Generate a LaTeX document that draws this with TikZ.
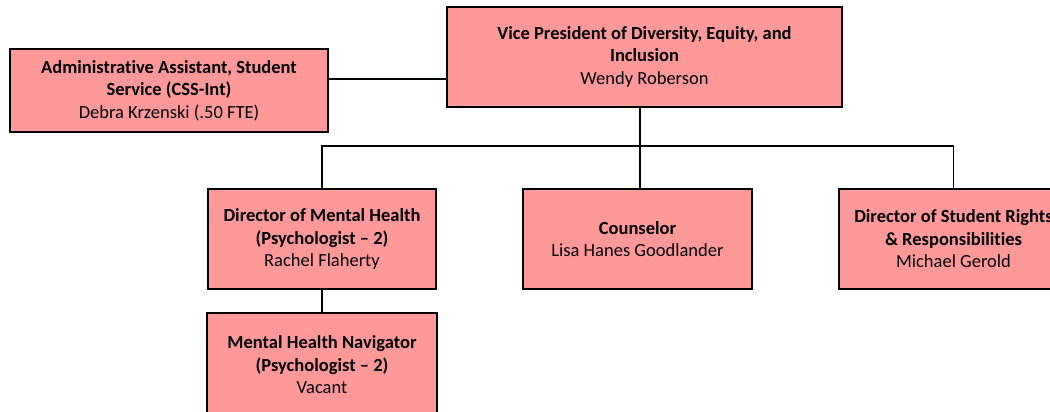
\documentclass[tikz,border=0pt]{standalone}
\usepackage{fontspec}
\setmainfont{Carlito}[Ligatures=NoCommon]
\definecolor{boxfill}{HTML}{FF9999}
\begin{document}
\begin{tikzpicture}[x=1pt,y=-1pt,
  orgbox/.style={draw=black, line width=1.8pt, fill=boxfill, rectangle, align=center,
    inner sep=0pt, font=\fontsize{18.5}{22.5}\selectfont},
  link/.style={draw=black, line width=1.6pt}]
\useasboundingbox (0,0) rectangle (1050,412);
\begin{scope}
\clip (0,0) rectangle (1050,412);
\node[orgbox, minimum width=318, minimum height=83] (admin) at (169,90.5)
  {\textbf{Administrative Assistant, Student}\\\textbf{Service (CSS-Int)}\\Debra Krzenski (.50 FTE)};
\node[orgbox, minimum width=395, minimum height=100] (vp) at (644.5,57)
  {\textbf{Vice President of Diversity, Equity, and}\\\textbf{Inclusion}\\Wendy Roberson};
\node[orgbox, minimum width=228, minimum height=100] (mh) at (322,239)
  {\textbf{Director of Mental Health}\\\textbf{(Psychologist – 2)}\\Rachel Flaherty};
\node[orgbox, minimum width=229, minimum height=100] (couns) at (637.5,239)
  {\textbf{Counselor}\\Lisa Hanes Goodlander};
\node[orgbox, minimum width=229, minimum height=100] (srr) at (953.5,239)
  {\textbf{Director of Student Rights}\\\textbf{\& Responsibilities}\\Michael Gerold};
\node[orgbox, minimum width=230, minimum height=104] (nav) at (322,365)
  {\textbf{Mental Health Navigator}\\\textbf{(Psychologist – 2)}\\Vacant};
\coordinate (aj) at (447,79);
\coordinate (bus) at (640,146);
\draw[link] (admin.east |- aj) -- (aj);
\draw[link] (vp.south -| bus) -- (couns.north -| bus);
\draw[link] (mh.north) |- (bus) -| (srr.north);
\draw[link] (mh.south) -- (nav.north);
\end{scope}
\end{tikzpicture}
\end{document}
